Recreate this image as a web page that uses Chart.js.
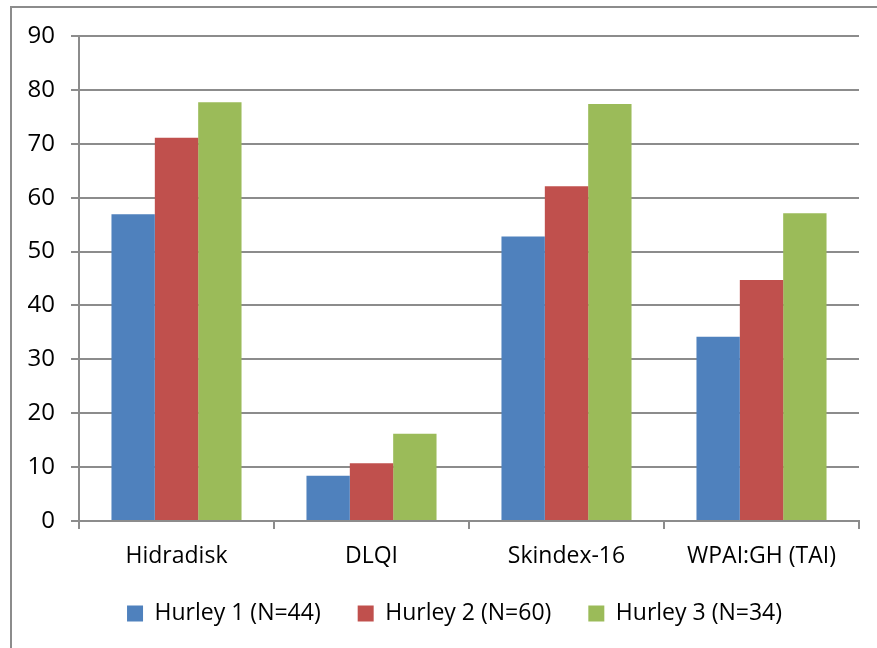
<!DOCTYPE html>
<html>
<head>
<meta charset="utf-8">
<script src="https://cdn.jsdelivr.net/npm/chart.js@4/dist/chart.umd.min.js"></script>
<style>
  html, body { margin: 0; padding: 0; background: #fff; overflow: hidden; }
  #frame {
    position: absolute; left: 10px; top: 6px; width: 880px; height: 660px;
    border-left: 2px solid #8c8c8c; border-top: 2px solid #8c8c8c;
  }
  #wrap { position: absolute; left: 0; top: 0; width: 877px; height: 651px; }
</style>
</head>
<body>
<div id="frame"></div>
<div id="wrap"><canvas id="chart"></canvas></div>
<script>
// data
const categories = ['Hidradisk', 'DLQI', 'Skindex-16', 'WPAI:GH (TAI)'];
const hurley1 = [56.9, 8.4, 52.8, 34.2];
const hurley2 = [71.1, 10.7, 62.1, 44.7];
const hurley3 = [77.7, 16.2, 77.4, 57.1];
const seriesNames = ['Hurley 1 (N=44)', 'Hurley 2 (N=60)', 'Hurley 3 (N=34)'];
const yTicks = [0, 10, 20, 30, 40, 50, 60, 70, 80, 90];

const colors = ['#4F81BD', '#C0504D', '#9BBB59'];
const gridColor = '#8c8c8c';
const fontFamily = '"Open Sans", "DejaVu Sans", sans-serif';

Chart.defaults.font.family = fontFamily;
Chart.defaults.color = '#000';

// nudge the legend box so it sits where the original one does
const legendShift = {
    id: 'legendShift',
    afterLayout(chart) {
        const lg = chart.legend;
        lg.top -= 16;
        lg.bottom -= 16;
        lg.left += 25;
        lg.right += 25;
    }
};

const ctx = document.getElementById('chart').getContext('2d');
new Chart(ctx, {
    type: 'bar',
    data: {
        labels: categories,
        datasets: [hurley1, hurley2, hurley3].map((d, i) => ({
            label: seriesNames[i],
            data: d,
            backgroundColor: colors[i],
            borderWidth: 0,
            barPercentage: 1,
            categoryPercentage: 0.667
        }))
    },
    options: {
        responsive: true,
        maintainAspectRatio: false,
        animation: false,
        layout: { padding: { top: 36, right: 18, left: 0, bottom: 0 } },
        plugins: {
            legend: {
                position: 'bottom',
                labels: {
                    boxWidth: 16,
                    boxHeight: 16,
                    padding: 37,
                    font: { size: 23 }
                }
            },
            tooltip: { enabled: false }
        },
        scales: {
            x: {
                grid: {
                    display: true,
                    drawOnChartArea: false,
                    offset: true,
                    tickLength: 8,
                    color: gridColor,
                    lineWidth: 2
                },
                border: { color: gridColor, width: 2 },
                ticks: { font: { size: 23 }, padding: 14 },
                afterFit: scale => { scale.height = 60; }
            },
            y: {
                min: 0,
                max: 90,
                afterBuildTicks: scale => { scale.ticks = yTicks.map(v => ({ value: v })); },
                grid: { color: gridColor, lineWidth: 2, tickLength: 8 },
                border: { color: gridColor, width: 2 },
                ticks: { font: { size: 24 }, padding: 16 },
                afterFit: scale => { scale.width = 79; }
            }
        }
    },
    plugins: [legendShift]
});
</script>
</body>
</html>
